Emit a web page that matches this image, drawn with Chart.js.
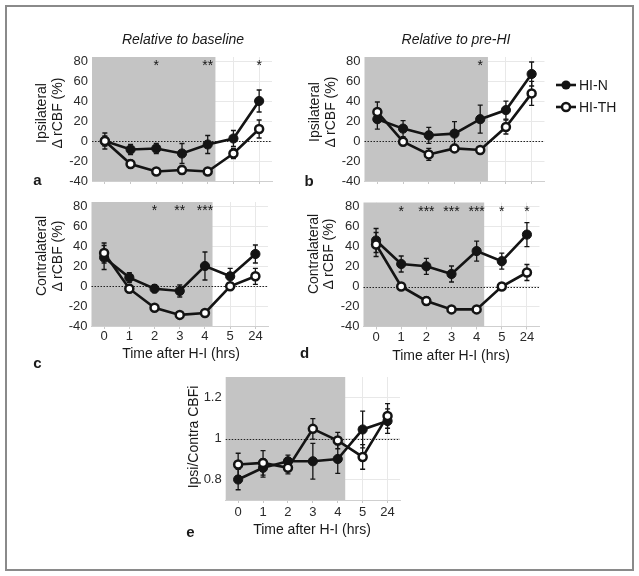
<!DOCTYPE html>
<html><head><meta charset="utf-8">
<script src="https://cdn.jsdelivr.net/npm/chart.js@4/dist/chart.umd.min.js"></script>
<style>
html,body{margin:0;padding:0;background:#fff;}
body{width:639px;height:576px;position:relative;overflow:hidden;font-family:"Liberation Sans",Arial,sans-serif;color:#1a1a1a;}
canvas{position:absolute;left:0;top:0;}
.t{position:absolute;white-space:nowrap;font-size:14px;line-height:16px;}
.c{text-align:center;}
.it{font-style:italic;}
.rot{width:160px;height:16px;text-align:center;transform:rotate(-90deg);transform-origin:50% 50%;}
.lt{position:absolute;font-weight:bold;font-size:15px;line-height:15px;width:20px;text-align:center;}
#frame{position:absolute;left:5px;top:5px;width:629px;height:566px;box-sizing:border-box;border:2px solid #8a8a8a;}
svg{position:absolute;left:0;top:0;}
</style></head><body>
<div id="frame"></div>
<canvas id="pa" width="639" height="576"></canvas>
<canvas id="pb" width="639" height="576"></canvas>
<canvas id="pc" width="639" height="576"></canvas>
<canvas id="pd" width="639" height="576"></canvas>
<canvas id="pe" width="639" height="576"></canvas>

<div class="t c it" style="left:83px;top:31px;width:200px;">Relative to baseline</div>
<div class="t c it" style="left:356px;top:31px;width:200px;">Relative to pre-HI</div>

<div class="t rot" style="left:-39px;top:105px;">Ipsilateral</div>
<div class="t rot" style="left:-23px;top:105px;">Δ rCBF (%)</div>
<div class="t rot" style="left:234px;top:104px;">Ipsilateral</div>
<div class="t rot" style="left:250px;top:104px;">Δ rCBF (%)</div>
<div class="t rot" style="left:-39px;top:248px;">Contralateral</div>
<div class="t rot" style="left:-23px;top:248px;">Δ rCBF (%)</div>
<div class="t rot" style="left:232.5px;top:246px;">Contralateral</div>
<div class="t rot" style="left:248px;top:246px;">Δ rCBF (%)</div>
<div class="t rot" style="left:112.5px;top:429px;">Ipsi/Contra CBFi</div>

<div class="t c" style="left:81px;top:345px;width:200px;">Time after H-I (hrs)</div>
<div class="t c" style="left:351px;top:347px;width:200px;">Time after H-I (hrs)</div>
<div class="t c" style="left:212px;top:521px;width:200px;">Time after H-I (hrs)</div>

<div class="lt" style="left:27.5px;top:172px;">a</div>
<div class="lt" style="left:299px;top:173px;">b</div>
<div class="lt" style="left:27.5px;top:355px;">c</div>
<div class="lt" style="left:294.5px;top:345px;">d</div>
<div class="lt" style="left:180.5px;top:524px;">e</div>

<svg width="639" height="576">
  <line x1="556" y1="85" x2="576" y2="85" stroke="#141414" stroke-width="2.6"/>
  <circle cx="566" cy="85" r="4.6" fill="#141414"/>
  <line x1="556" y1="107" x2="576" y2="107" stroke="#141414" stroke-width="2.6"/>
  <circle cx="566" cy="107" r="4" fill="#fff" stroke="#141414" stroke-width="2.5"/>
</svg>
<div class="t" style="left:579px;top:77px;">HI-N</div>
<div class="t" style="left:579px;top:99px;">HI-TH</div>

<script>
// ---- data ----
const categories = ['0','1','2','3','4','5','24'];
const yTicksCBF = [-40,-20,0,20,40,60,80];
const yTickLabelsCBF = ['-40','-20','0','20','40','60','80'];
const yTicksRatio = [0.8,1,1.2];
const yTickLabelsRatio = ['0.8','1','1.2'];
const SHADE_END = 4.3;

// a: ipsilateral, relative to baseline
const a_N = [0, -8.5, -7.5, -12.5, -3.5, 2.5, 40];
const a_N_err = [8, 5, 5, 10, 9, 8, 11];
const a_TH = [0, -23, -30.5, -29, -30.5, -12.5, 12];
const a_TH_err = [5, 4, 3, 4, 3, 5, 9];
const starsA = ['', '', '*', '', '**', '', '*'];
// b: ipsilateral, relative to pre-HI
const b_N = [21.8, 12.4, 5.7, 7.4, 21.8, 30.9, 67];
const b_N_err = [10, 8, 8, 12, 14, 9, 12];
const b_TH = [29, -0.7, -13.4, -7.4, -9, 14, 47.6];
const b_TH_err = [10, 4, 6, 4, 3, 7, 12];
const starsB = ['', '', '', '', '*', '', ''];
// c: contralateral, relative to baseline
const c_N = [28.5, 8.4, -2.7, -5, 20, 9.7, 32];
const c_N_err = [12, 5, 4, 6, 14, 8, 9];
const c_TH = [33, -2.7, -21.8, -28.9, -27, -0.3, 9.7];
const c_TH_err = [10, 4, 3, 3, 3, 3, 8];
const starsC = ['', '', '*', '**', '***', '', ''];
// d: contralateral, relative to pre-HI
const d_N = [46, 22.5, 20.2, 12.5, 35.4, 25.3, 51.9];
const d_N_err = [12, 8, 8, 8, 10, 8, 12];
const d_TH = [42, 0, -14.5, -22.9, -22.9, 0, 14];
const d_TH_err = [12, 3, 4, 3, 3, 3, 8];
const starsD = ['', '*', '***', '***', '***', '*', '*'];
// e: ipsi/contra ratio
const e_N = [0.80, 0.857, 0.889, 0.889, 0.90, 1.044, 1.085];
const e_N_err = [0.05, 0.045, 0.03, 0.087, 0.07, 0.09, 0.06];
const e_TH = [0.873, 0.881, 0.857, 1.047, 0.99, 0.91, 1.11];
const e_TH_err = [0.055, 0.06, 0.03, 0.05, 0.04, 0.06, 0.06];
const starsE = ['', '', '', '', '', '', ''];

// ---- layout / styling ----
const FAMILY = '"Liberation Sans", Arial, sans-serif';
const INK = '#141414';
const panels = [
  {id:'pa', N:a_N, Ne:a_N_err, T:a_TH, Te:a_TH_err, stars:starsA, ymin:-40, ymax:84, yt:yTicksCBF, yl:yTickLabelsCBF, ref:0, showX:false, xpad:0, box:{l:92, r:272, t:57, b:181}},
  {id:'pb', N:b_N, Ne:b_N_err, T:b_TH, Te:b_TH_err, stars:starsB, ymin:-40, ymax:84, yt:yTicksCBF, yl:yTickLabelsCBF, ref:0, showX:false, xpad:0, box:{l:364.5, r:544.5, t:57, b:181}},
  {id:'pc', N:c_N, Ne:c_N_err, T:c_TH, Te:c_TH_err, stars:starsC, ymin:-40, ymax:84, yt:yTicksCBF, yl:yTickLabelsCBF, ref:0, showX:true, xpad:0, box:{l:91.5, r:268, t:202, b:326}},
  {id:'pd', N:d_N, Ne:d_N_err, T:d_TH, Te:d_TH_err, stars:starsD, ymin:-40, ymax:84, yt:yTicksCBF, yl:yTickLabelsCBF, ref:0, showX:true, xpad:0, box:{l:363.5, r:539.5, t:202.5, b:326.5}},
  {id:'pe', N:e_N, Ne:e_N_err, T:e_TH, Te:e_TH_err, stars:starsE, ymin:0.7, ymax:1.3, yt:yTicksRatio, yl:yTickLabelsRatio, ref:1, showX:true, xpad:2, box:{l:225.7, r:400, t:377, b:500}}
];

function deco(p){
  return {
    id:'deco_'+p.id,
    beforeDatasetsDraw(chart){
      const {ctx, chartArea:ca, scales:{x, y}} = chart;
      ctx.save();
      // shaded hypothermia / H-I period
      ctx.fillStyle = '#c4c4c4';
      const xe = x.getPixelForValue(SHADE_END);
      ctx.fillRect(ca.left, ca.top, xe - ca.left, ca.bottom - ca.top);
      // reference dotted line
      const yr = Math.round(y.getPixelForValue(p.ref)) + 0.5;
      ctx.strokeStyle = '#222';
      ctx.lineWidth = 1.1;
      ctx.setLineDash([1.5, 1.5]);
      ctx.beginPath(); ctx.moveTo(ca.left, yr); ctx.lineTo(ca.right, yr); ctx.stroke();
      ctx.setLineDash([]);
      // error bars
      ctx.strokeStyle = INK;
      ctx.lineWidth = 1.3;
      chart.data.datasets.forEach(ds => {
        ds.data.forEach((pt, i) => {
          const e = ds.errors[i];
          const px = x.getPixelForValue(pt.x);
          const y1 = y.getPixelForValue(pt.y - e), y2 = y.getPixelForValue(pt.y + e);
          ctx.beginPath();
          ctx.moveTo(px, y1); ctx.lineTo(px, y2);
          ctx.moveTo(px - 2.5, y1); ctx.lineTo(px + 2.5, y1);
          ctx.moveTo(px - 2.5, y2); ctx.lineTo(px + 2.5, y2);
          ctx.stroke();
        });
      });
      ctx.restore();
    },
    afterDatasetsDraw(chart){
      const {ctx, chartArea:ca, scales:{x}} = chart;
      ctx.save();
      ctx.fillStyle = INK;
      ctx.font = '14px ' + FAMILY;
      ctx.textAlign = 'center';
      ctx.textBaseline = 'alphabetic';
      p.stars.forEach((s, i) => {
        if (s) ctx.fillText(s, x.getPixelForValue(i), ca.top + 13);
      });
      ctx.restore();
    }
  };
}

panels.forEach(p => {
  new Chart(document.getElementById(p.id), {
    type: 'line',
    data: {
      datasets: [
        {label:'HI-N', data:p.N.map((v,i)=>({x:i, y:v})), errors:p.Ne, order:1,
         borderColor:INK, borderWidth:2.6, tension:0, fill:false,
         pointRadius:4.6, pointBackgroundColor:INK, pointBorderColor:INK, pointBorderWidth:1},
        {label:'HI-TH', data:p.T.map((v,i)=>({x:i, y:v})), errors:p.Te, order:0,
         borderColor:INK, borderWidth:2.6, tension:0, fill:false,
         pointRadius:4, pointBackgroundColor:'#ffffff', pointBorderColor:INK, pointBorderWidth:2.5}
      ]
    },
    options: {
      responsive:false, animation:false, devicePixelRatio:1,
      events: [],
      layout: {padding: {left:0, top:p.box.t, right:639 - p.box.r, bottom:0}},
      plugins: {legend:{display:false}, tooltip:{enabled:false}, title:{display:false}},
      scales: {
        x: {
          type:'linear', min:-0.5, max:6.5,
          afterBuildTicks: s => { s.ticks = categories.map((c,i)=>({value:i})); },
          afterFit: s => { s.height = 576 - p.box.b; },
          ticks: {display:p.showX, autoSkip:false, maxRotation:0, padding:p.xpad,
                  color:'#2a2a2a', font:{size:13, family:FAMILY},
                  callback:(v, i) => categories[i]},
          grid: {color:'#e8e8e8', lineWidth:1, drawTicks:true, tickLength:3, tickColor:'#c8c8c8'},
          border: {display:true, color:'#cfcfcf'}
        },
        y: {
          type:'linear', min:p.ymin, max:p.ymax,
          afterBuildTicks: s => { s.ticks = p.yt.map(v=>({value:v})); },
          afterFit: s => { s.width = p.box.l; },
          ticks: {padding:4, color:'#2a2a2a', font:{size:13, family:FAMILY},
                  callback:(v, i) => p.yl[i]},
          grid: {color:'#e8e8e8', lineWidth:1, drawTicks:false},
          border: {display:false}
        }
      }
    },
    plugins: [deco(p)]
  });
});
</script>
</body></html>
